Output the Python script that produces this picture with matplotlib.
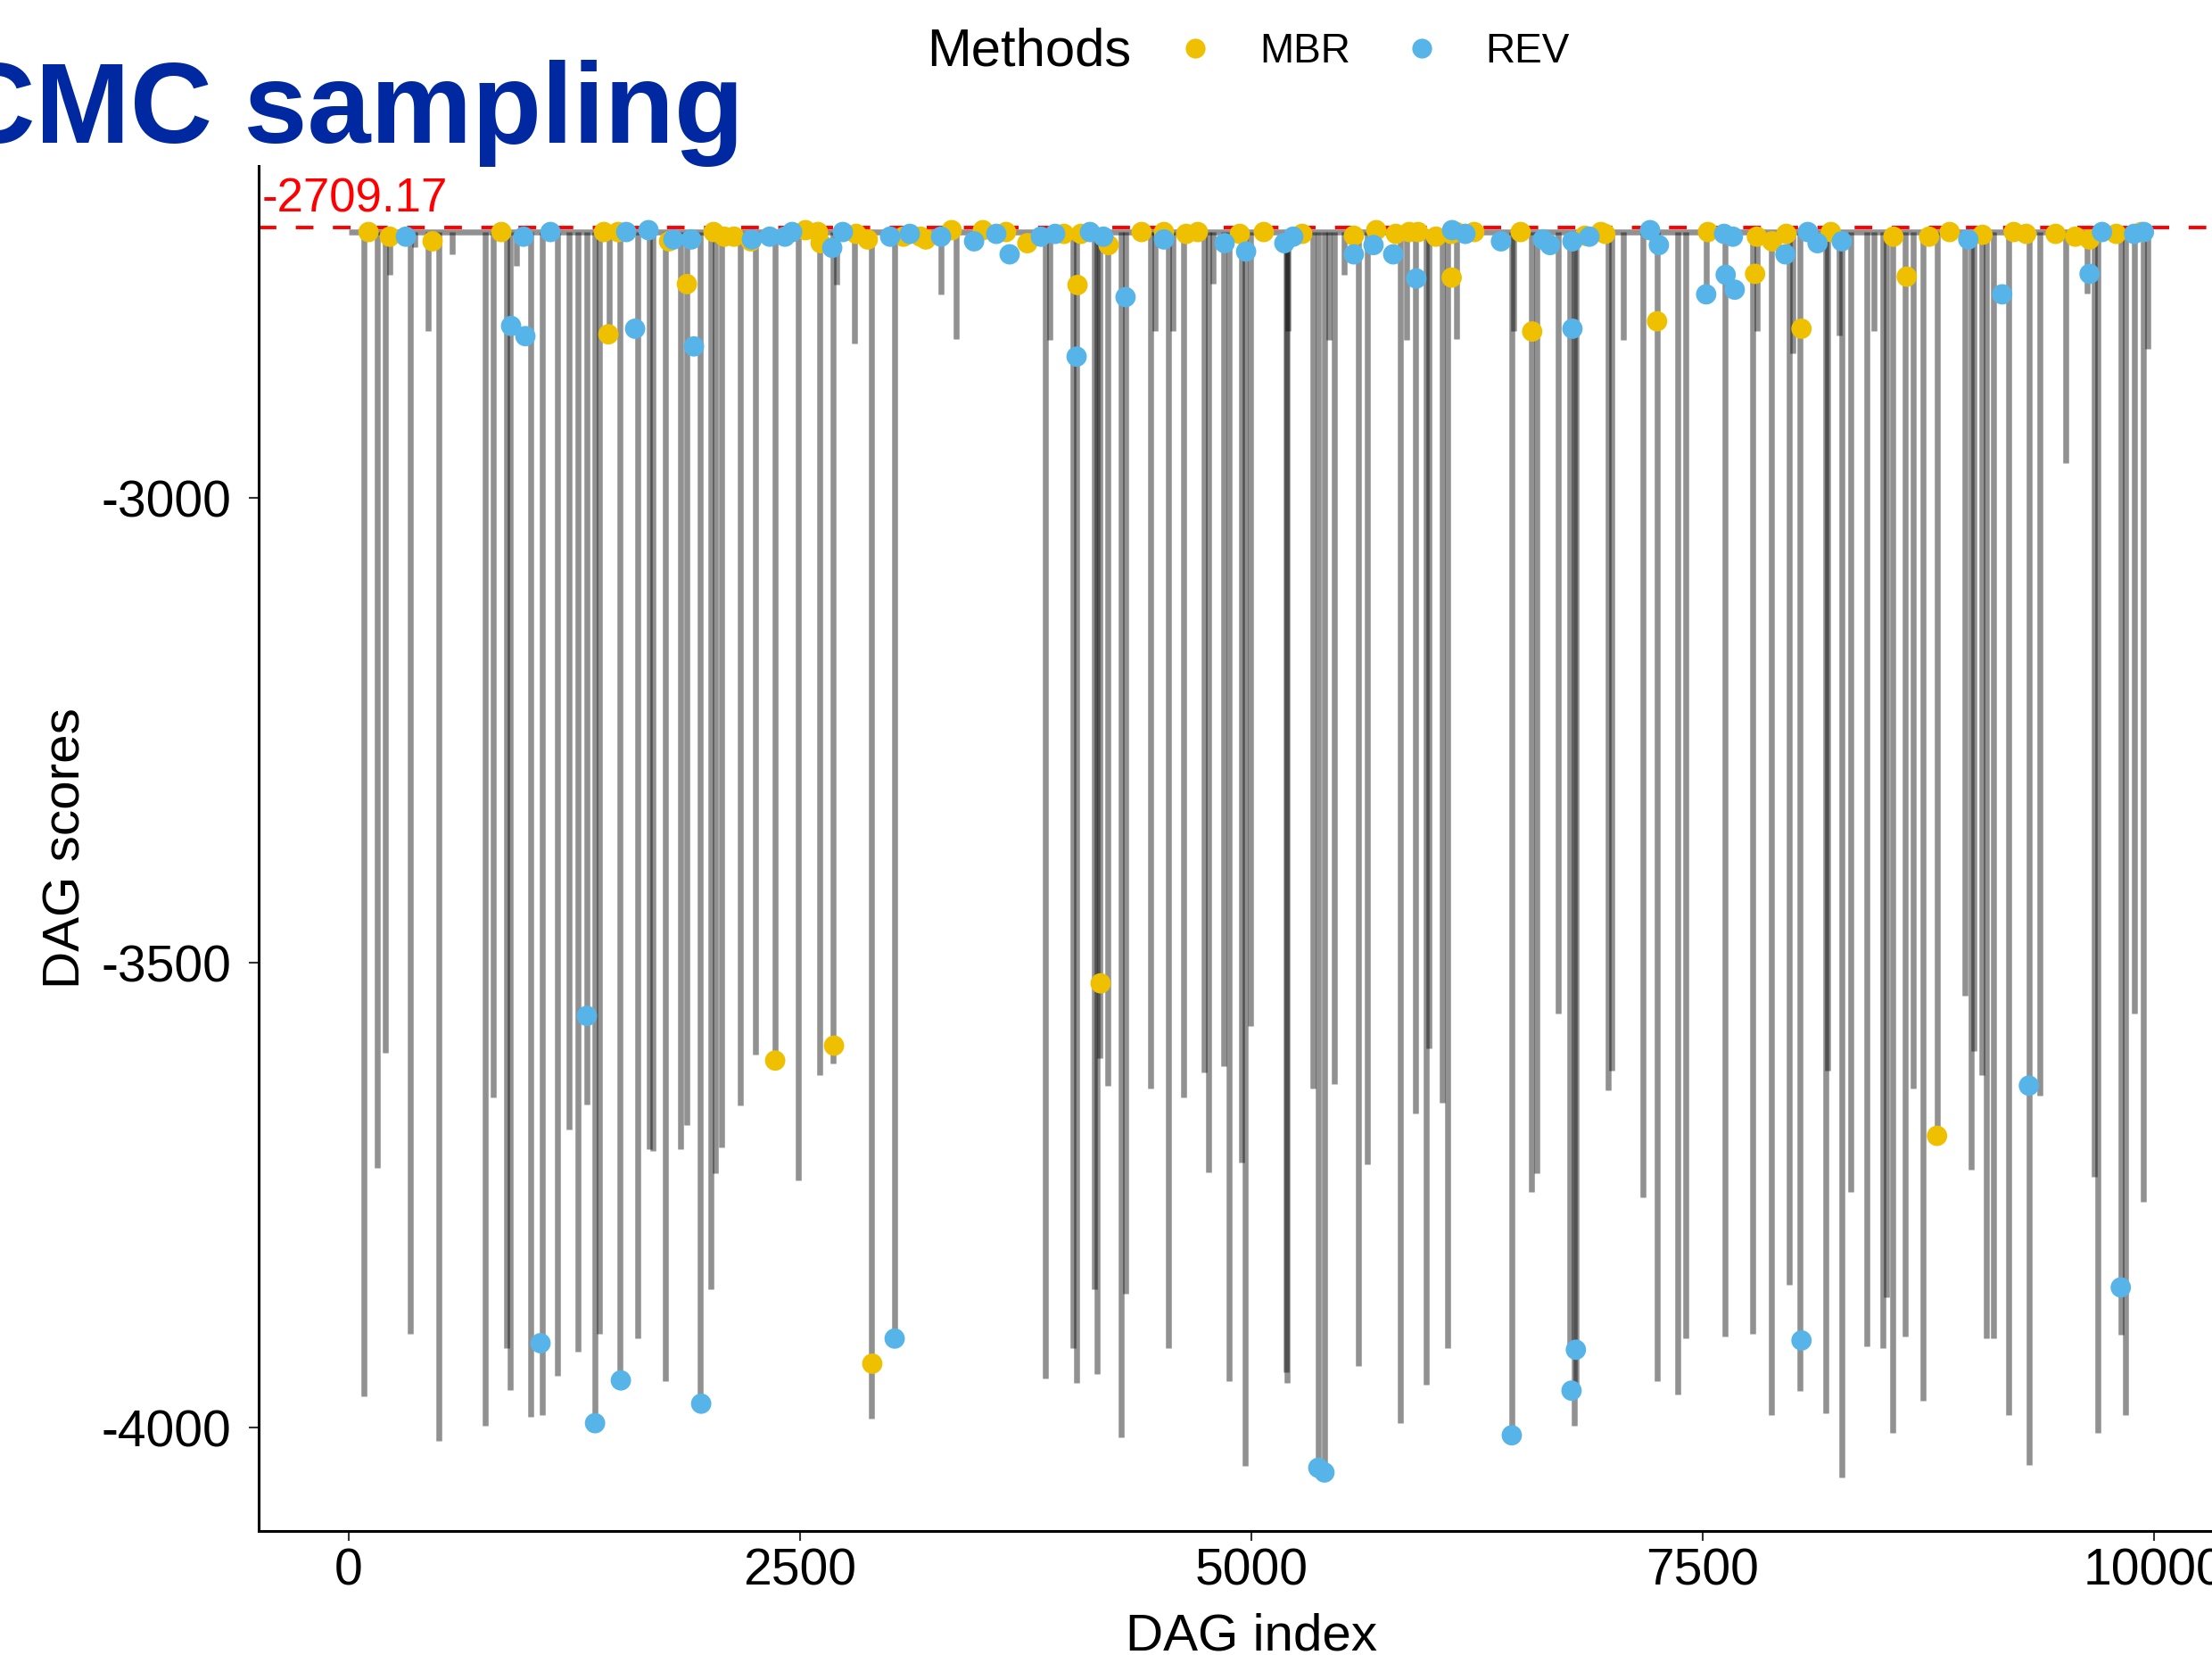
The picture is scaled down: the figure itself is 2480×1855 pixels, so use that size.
import matplotlib
matplotlib.use('Agg')
import matplotlib.pyplot as plt
from matplotlib.lines import Line2D

# best DAG score (red dashed line)
best_score = -2709.17
# level the trace sits at between drops
trace_level = -2714
trace_start, trace_end = 0, 9990

# trace drops: DAG index and score reached
drop_x = [84, 158, 203, 227, 341, 365, 440, 499, 573, 756, 800, 875, 894, 929, 1008, 1072,
          1156, 1220, 1270, 1319, 1364, 1388, 1443, 1502, 1601, 1665,
          1685, 1754, 1838, 1873, 1947, 2006, 2031, 2066, 2170, 2253, 2362, 2490, 2609,
          2683, 2703, 2801, 2895, 3024, 3281, 3365, 3859, 3883,
          4012, 4032, 4130, 4145, 4160, 4204, 4279, 4303, 4442, 4466, 4540, 4565, 4624,
          4738, 4763, 4788, 4847, 4877, 4946, 4966, 4995, 5193, 5198, 5203, 5341, 5371,
          5405, 5430, 5460, 5514, 5593, 5642, 5825, 5860, 5909, 5968, 5983, 6057, 6087,
          6136, 6443, 6453, 6551, 6581, 6700, 6764, 6789, 6798, 6976, 6996, 7060, 7169,
          7248, 7362, 7406, 7520, 7624, 7777, 7801, 7880, 7979, 7999, 8039, 8182, 8192,
          8256, 8271, 8320,
          8409, 8449, 8498, 8518, 8552, 8621, 8666, 8720, 8799, 8953, 8987, 9002, 9046,
          9071, 9111, 9195, 9308, 9368, 9511, 9630, 9669, 9689, 9817, 9842, 9891, 9941, 9965]
drop_y = [-3966, -3720, -3597, -2760, -3899, -2730, -2820, -4014, -2738, -3998, -3645, -3914,
          -3959, -2750, -3988, -3986, -3944, -3679, -3918, -3652, -3990, -3899, -2830, -3942,
          -3904, -3700,
          -3702, -3950, -3700, -3674, -3976, -3851, -3726, -3698, -3653, -3599, -3602, -3734,
          -3621, -3608, -2771, -2834, -3990, -3894, -2781, -2829, -3947, -2830,
          -3914, -3952, -3851, -3942, -3602, -3632, -4010, -3856, -3635, -2820, -3914, -2820,
          -3645, -3618, -3725, -2770, -3611, -3950, -3715, -4041, -3568, -3940, -3952, -2820,
          -3635, -4043, -4048, -2830, -3630, -2760, -3933, -3717, -3995, -2830, -3662, -3954,
          -3592, -3650, -3914,
          -2829, -4010, -2820, -3746, -3726, -3554, -3914, -3998, -3960, -3637, -3616, -2830,
          -3752, -3950, -3964, -3904, -2781, -3902, -3899, -2820, -3986, -3846, -2844, -3960,
          -3984, -3616, -2825, -4053, -3746,
          -3912, -2820, -3914, -3860, -4005, -3902, -3635, -3971, -3688, -3535, -3722, -3595,
          -3621, -3904, -3904, -3986, -4040, -3643, -2962, -2780, -3730, -4005, -3900, -3986,
          -3554, -3757, -2840]

mbr_x = [109, 227, 464, 845, 1413, 1492, 1438, 1774, 2021, 2080, 2134, 2228, 2530, 2599, 2614,
         2811, 2875, 3073, 3167, 3197, 3340, 3513, 3641, 3759, 1873, 2362, 2688, 2900,
         3962, 4056, 4209, 4392, 4516, 4639, 4704, 4936, 5069, 5282, 5568, 5692, 5801, 5875,
         5924, 6023, 6107, 4037, 4165, 6110, 6136, 6235, 6492, 6848, 6937, 6961, 7530, 7801,
         7885, 7964, 8211, 6556, 7248, 7791, 8048, 8557, 8755, 8869, 9051, 9224, 9293, 9456,
         9565, 9644, 9792, 8631, 8799, 9930]
mbr_y = [-2714, -2719, -2724, -2714, -2714, -2714, -2824, -2724, -2714, -2719, -2719, -2724,
         -2712, -2714, -2726, -2716, -2722, -2719, -2719, -2722, -2712, -2712, -2714, -2726,
         -2770, -3605, -3589, -3931,
         -2716, -2716, -2728, -2714, -2714, -2716, -2714, -2716, -2714, -2716, -2718, -2712,
         -2716, -2714, -2714, -2719, -2716, -2771, -3522, -2763, -2714, -2714, -2714, -2718,
         -2714, -2716, -2714, -2719, -2724, -2716, -2714, -2821, -2810, -2759, -2818, -2719,
         -2719, -2714, -2717, -2714, -2716, -2716, -2719, -2722, -2716, -2762, -3686, -2714]

rev_x = [316, 968, 1117, 1537, 1660, 899, 978, 1062, 1319, 1364, 1507, 1586, 1798, 1897, 2233,
         2332, 2416, 2456, 2678, 2737, 2999, 3108, 3281, 3464, 3587, 3661, 3834, 1912, 1952,
         3024, 3913, 4106, 4180, 4516, 4852, 4971, 5183, 5232, 5568, 5677, 5786, 6112, 4032,
         4303, 5914, 5371, 5405, 6186, 6383, 6615, 6655, 6779, 6873, 7209, 7258, 7619, 7668,
         7959, 8083, 8137, 8271, 6443, 6779, 6798, 6774, 7520, 7628, 7678, 8048, 8972, 9713,
         9891, 9160, 9308, 9644, 9817, 9945]
rev_y = [-2719, -2719, -2714, -2714, -2712, -2815, -2826, -3909, -3557, -3995, -3949, -2818,
         -2722, -2722, -2722, -2719, -2719, -2714, -2731, -2714, -2719, -2716, -2719, -2724,
         -2716, -2738, -2719, -2837, -3974, -3904, -2716, -2714, -2719, -2722, -2726, -2735,
         -2726, -2719, -2738, -2728, -2738, -2712, -2848, -2784, -2764, -4043, -4048, -2716,
         -2724, -2722, -2728, -2724, -2719, -2712, -2728, -2716, -2719, -2738, -2714, -2726,
         -2724, -4008, -2818, -3916, -3960, -2781, -2760, -2776, -3906, -2722, -2714, -2716,
         -2781, -3632, -2759, -3849, -2714]

x_ticks = [0, 2500, 5000, 7500, 10000]
y_ticks = [-4000, -3500, -3000]

mbr_color = '#EFC000'
rev_color = '#56B4E9'

plt.rcParams['font.family'] = ['Liberation Sans', 'DejaVu Sans']
plt.rcParams['axes.unicode_minus'] = False

fig = plt.figure(figsize=(24.8, 18.55), dpi=100)
ax = fig.add_axes([0.1169, 0.0749, 0.8976, 0.8248])

# gray trace: level line plus the drops
ax.plot([trace_start, trace_end], [trace_level, trace_level], color='black', alpha=0.43,
        lw=4.7, solid_capstyle='butt', zorder=1)
ax.vlines(drop_x, trace_level, drop_y, colors='black', alpha=0.43, lw=4.7, zorder=1)

ax.axhline(best_score, color='red', lw=2.8, ls=(0, (5.1, 5.6)), zorder=2)
ax.text(-480, -2692, '%.2f' % best_score, color='red', fontsize=38, ha='left', va='baseline')

ax.scatter(mbr_x, mbr_y, s=270, color=mbr_color, edgecolors='none', zorder=3)
ax.scatter(rev_x, rev_y, s=270, color=rev_color, edgecolors='none', zorder=3)

ax.set_xlim(-500, 10500)
ax.set_ylim(-4111, -2643)
ax.set_xticks(x_ticks)
ax.set_yticks(y_ticks)
ax.spines['top'].set_visible(False)
ax.spines['right'].set_visible(False)
ax.spines['left'].set_linewidth(2.2)
ax.spines['bottom'].set_linewidth(2.2)
ax.tick_params(axis='both', labelsize=41, length=8, width=1.5, colors='#333333',
               labelcolor='black')
ax.tick_params(axis='x', pad=5)
ax.tick_params(axis='y', pad=14)

ax.set_xlabel('DAG index', fontsize=42)
ax.set_ylabel('DAG scores', fontsize=42)
ax.xaxis.set_label_coords(0.5, -0.060)
ax.yaxis.set_label_coords(-0.0845, 0.5)

# legend across the top
fig.text(1039 / 2480, 1 - 58 / 1855, 'Methods', fontsize=43, ha='left', va='center')
handles = [Line2D([], [], marker='o', ls='none', markersize=16, markerfacecolor=c,
                  markeredgecolor='none') for c in (mbr_color, rev_color)]
fig.legend(handles, ['MBR', 'REV'], ncol=2, loc='center left',
           bbox_to_anchor=(1317 / 2480, 1 - 58 / 1855), frameon=False, fontsize=33,
           handlelength=1.0, handletextpad=1.07, columnspacing=1.24, borderpad=0,
           borderaxespad=0)

# slide title, cut off on the left as in the source
fig.text(834 / 2480, 1 - 160 / 1855, 'MCMC sampling', fontsize=92, fontweight='bold',
         color='#0028A0', ha='right', va='baseline')

fig.savefig('out.png', dpi=100)
